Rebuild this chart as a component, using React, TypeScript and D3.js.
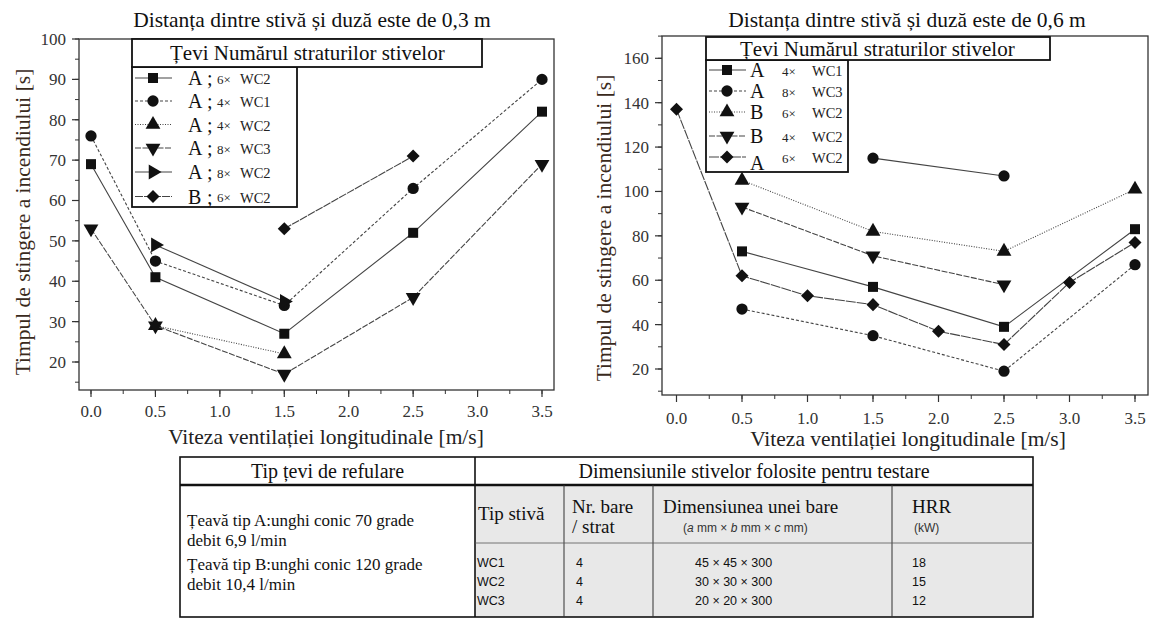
import * as d3 from 'd3'

// ---- data: left panel (0,3 m) ----
const leftTitle = 'Distanța dintre stivă și duză este de 0,3 m'
const leftSqX = [0, 0.5, 1.5, 2.5, 3.5]
const leftSqY = [69, 41, 27, 52, 82]
const leftCircX = [0, 0.5, 1.5, 2.5, 3.5]
const leftCircY = [76, 45, 34, 63, 90]
const leftTriX = [0.5, 1.5]
const leftTriY = [29, 22]
const leftDownX = [0, 0.5, 1.5, 2.5, 3.5]
const leftDownY = [53, 29, 17, 36, 69]
const leftRightX = [0.5, 1.5]
const leftRightY = [49, 35]
const leftDiaX = [1.5, 2.5]
const leftDiaY = [53, 71]
const leftLegendPipe = ['A', 'A', 'A', 'A', 'A', 'B']
const leftLegendCount = ['6×', '4×', '4×', '8×', '8×', '6×']
const leftLegendStack = ['WC2', 'WC1', 'WC2', 'WC3', 'WC2', 'WC2']

// ---- data: right panel (0,6 m) ----
const rightTitle = 'Distanța dintre stivă și duză este de 0,6 m'
const rightSqX = [0.5, 1.5, 2.5, 3.5]
const rightSqY = [73, 57, 39, 83]
const rightCircX = [0.5, 1.5, 2.5, 3.5]
const rightCircY = [47, 35, 19, 67]
const rightCirc2X = [1.5, 2.5]
const rightCirc2Y = [115, 107]
const rightTriX = [0.5, 1.5, 2.5, 3.5]
const rightTriY = [105, 82, 73, 101]
const rightDownX = [0.5, 1.5, 2.5]
const rightDownY = [93, 71, 58]
const rightDiaX = [0, 0.5, 1, 1.5, 2, 2.5, 3, 3.5]
const rightDiaY = [137, 62, 53, 49, 37, 31, 59, 77]
const rightLegendPipe = ['A', 'A', 'B', 'B', 'A']
const rightLegendCount = ['4×', '8×', '6×', '4×', '6×']
const rightLegendStack = ['WC1', 'WC3', 'WC2', 'WC2', 'WC2']

const xTicks = [0, 0.5, 1, 1.5, 2, 2.5, 3, 3.5]
const leftYTicks = [20, 30, 40, 50, 60, 70, 80, 90, 100]
const rightYTicks = [20, 40, 60, 80, 100, 120, 140, 160]

const legendHeader = 'Țevi  Numărul straturilor stivelor'
const xTitle = 'Viteza ventilației longitudinale [m/s]'
const yTitle = 'Timpul de stingere a incendiului [s]'

// ---- table text ----
const tableHead = ['Tip țevi de refulare', 'Dimensiunile stivelor folosite pentru testare']
const pipeLines = [
  'Țeavă tip A:unghi conic 70 grade',
  'debit 6,9 l/min',
  'Țeavă tip B:unghi conic 120 grade',
  'debit 10,4 l/min',
]
const stackTypes = ['WC1', 'WC2', 'WC3']
const barsPerLayer = ['4', '4', '4']
const barDims = ['45 × 45 × 300', '30 × 30 × 300', '20 × 20 × 300']
const hrr = ['18', '15', '12']

const serif = "'Liberation Serif', 'Times New Roman', serif"
const sans = "'Liberation Sans', Arial, sans-serif"

type Series = { xs: number[]; ys: number[]; shape: string; dash: string }

function markerPath(shape: string) {
  if (shape === 'square') return d3.symbol(d3.symbolSquare, 100)()
  if (shape === 'circle') return d3.symbol(d3.symbolCircle, 100)()
  if (shape === 'diamond') return d3.symbol(d3.symbolSquare, 85)()
  return d3.symbol(d3.symbolTriangle, 95)()
}
function markerRot(shape: string) {
  if (shape === 'down') return 180
  if (shape === 'right') return 90
  if (shape === 'diamond') return 45
  return 0
}

function Marker({ x, y, shape }: { x: number; y: number; shape: string }) {
  return (
    <path
      d={markerPath(shape) || ''}
      transform={`translate(${x},${y}) rotate(${markerRot(shape)})`}
      fill="#111"
    />
  )
}

type LegendBox = {
  l: number
  r: number
  ir: number
  t: number
  hb: number
  ib: number
  rows: number[]
  pipeDy: number[]
  pipeX: number
  semi: boolean
  countX: number
  stackX: number
  textX: number
}

type PanelProps = {
  frame: { l: number; r: number; t: number; b: number }
  xRange: [number, number]
  yDom: [number, number]
  yRange: [number, number]
  yTicks: number[]
  yMinorStep: number
  labelGap: number
  xTitleGap: number
  xTitleX: number
  series: Series[]
  title: string
  titleX: number
  yTitleX: number
  yTitleY: number
  legend: LegendBox
  pipes: string[]
  counts: string[]
  stacks: string[]
  legendShapes: string[]
  legendDash: string[]
}

function Panel(p: PanelProps) {
  const { frame, legend } = p
  const x = d3.scaleLinear([0, 3.5], p.xRange)
  const y = d3.scaleLinear(p.yDom, p.yRange)
  const yMin = y.invert(frame.b)
  const yMax = y.invert(frame.t)
  const yMinor = d3.range(Math.ceil(yMin / p.yMinorStep) * p.yMinorStep, yMax + 0.01, p.yMinorStep)
  const xMinor = d3.range(0, 3.51, 0.25)
  return (
    <g>
      <text x={p.titleX} y={27} fontSize={21.5} fontFamily={serif} textAnchor="middle" fill="#111">
        {p.title}
      </text>
      {/* series */}
      {p.series.map((s, i) => {
        const pts = s.xs.map((v, j) => [x(v), y(s.ys[j])] as [number, number])
        const path = d3.line()(pts)
        return (
          <g key={i}>
            <path d={path || ''} fill="none" stroke="#444" strokeWidth={1.1} strokeDasharray={s.dash} />
            {pts.map((pt, j) => (
              <Marker key={j} x={pt[0]} y={pt[1]} shape={s.shape} />
            ))}
          </g>
        )
      })}
      {/* frame */}
      <rect x={frame.l} y={frame.t} width={frame.r - frame.l} height={frame.b - frame.t} fill="none" stroke="#333" strokeWidth={1.3} />
      {/* y ticks */}
      {yMinor.map((v) => (
        <line key={'ym' + v} x1={frame.l - 4} x2={frame.l} y1={y(v)} y2={y(v)} stroke="#333" />
      ))}
      {p.yTicks.map((v) => (
        <g key={'y' + v}>
          <line x1={frame.l - 7} x2={frame.l} y1={y(v)} y2={y(v)} stroke="#333" strokeWidth={1.2} />
          <text x={frame.l - 13} y={y(v)} dy="0.35em" textAnchor="end" fontSize={17} fontFamily={serif} fill="#333">
            {v}
          </text>
        </g>
      ))}
      {/* x ticks */}
      {xMinor.map((v) => (
        <line key={'xm' + v} x1={x(v)} x2={x(v)} y1={frame.b} y2={frame.b + 4} stroke="#333" />
      ))}
      {xTicks.map((v) => (
        <g key={'x' + v}>
          <line x1={x(v)} x2={x(v)} y1={frame.b} y2={frame.b + 7} stroke="#333" strokeWidth={1.2} />
          <text x={x(v)} y={frame.b + p.labelGap} textAnchor="middle" fontSize={17} fontFamily={serif} fill="#333">
            {d3.format('.1f')(v)}
          </text>
        </g>
      ))}
      <text x={p.xTitleX} y={frame.b + p.xTitleGap} textAnchor="middle" fontSize={21.5} fontFamily={serif} fill="#222">
        {xTitle}
      </text>
      <text
        transform={`translate(${p.yTitleX},${p.yTitleY}) rotate(-90)`}
        textAnchor="middle"
        dy="0.35em"
        fontSize={21.5}
        fontFamily={serif}
        fill="#3a2a1c"
      >
        {yTitle}
      </text>
      {/* legend */}
      <rect x={legend.l} y={legend.hb} width={legend.ir - legend.l} height={legend.ib - legend.hb} fill="#fff" stroke="#111" strokeWidth={1.8} />
      <rect x={legend.l} y={legend.t} width={legend.r - legend.l} height={legend.hb - legend.t} fill="#fff" stroke="#111" strokeWidth={1.8} />
      <text x={legend.textX} y={(legend.t + legend.hb) / 2} dy="0.35em" fontSize={21} fontFamily={serif} fill="#111">
        {legendHeader}
      </text>
      {p.pipes.map((pipe, i) => {
        const ry = legend.rows[i]
        return (
          <g key={'lg' + i}>
            <line x1={legend.l + 3} x2={legend.l + 40} y1={ry} y2={ry} stroke="#444" strokeWidth={1.1} strokeDasharray={p.legendDash[i]} />
            <Marker x={legend.l + 21} y={ry} shape={p.legendShapes[i]} />
            <text x={legend.pipeX} y={ry + legend.pipeDy[i]} dy="0.35em" fontSize={20} fontFamily={serif} fill="#111">
              {pipe}
            </text>
            {legend.semi && (
              <text x={legend.pipeX + 19} y={ry} dy="0.35em" fontSize={20} fontFamily={serif} fill="#111">
                ;
              </text>
            )}
            <text x={legend.countX} y={ry + 1} dy="0.35em" fontSize={13} fontFamily={serif} fill="#222">
              {p.counts[i]}
            </text>
            <text x={legend.stackX} y={ry + 1} dy="0.35em" fontSize={14.5} fontFamily={serif} fill="#222">
              {p.stacks[i]}
            </text>
          </g>
        )
      })}
    </g>
  )
}

function Table() {
  const L = 180
  const R = 1033
  const T = 457
  const HB = 485
  const SB = 543
  const B = 617
  const c1 = 475
  const c2 = 564
  const c3 = 653
  const c4 = 892
  return (
    <g fontFamily={serif} fill="#111">
      <rect x={c1} y={HB} width={R - c1} height={B - HB} fill="#e8e8e8" />
      <rect x={L} y={T} width={R - L} height={B - T} fill="none" stroke="#111" strokeWidth={1.6} />
      <line x1={L} x2={R} y1={HB} y2={HB} stroke="#111" strokeWidth={2.4} />
      <line x1={c1} x2={c1} y1={T} y2={B} stroke="#111" strokeWidth={1.6} />
      <line x1={c2} x2={c2} y1={HB} y2={B} stroke="#333" strokeWidth={1} />
      <line x1={c3} x2={c3} y1={HB} y2={B} stroke="#333" strokeWidth={1} />
      <line x1={c4} x2={c4} y1={HB} y2={B} stroke="#333" strokeWidth={1} />
      <line x1={c1} x2={R} y1={SB} y2={SB} stroke="#555" strokeWidth={0.8} />
      <text x={(L + c1) / 2} y={471} dy="0.35em" textAnchor="middle" fontSize={20}>
        {tableHead[0]}
      </text>
      <text x={(c1 + R) / 2} y={471} dy="0.35em" textAnchor="middle" fontSize={20}>
        {tableHead[1]}
      </text>
      {pipeLines.map((t, i) => (
        <text key={t} x={187} y={[520, 540, 564, 584][i]} dy="0.35em" fontSize={17}>
          {t}
        </text>
      ))}
      <text x={c1 + 3} y={513} dy="0.35em" fontSize={19}>
        Tip stivă
      </text>
      <text x={c2 + 8} y={506} dy="0.35em" fontSize={19}>
        Nr. bare
      </text>
      <text x={c2 + 8} y={526} dy="0.35em" fontSize={19}>
        / strat
      </text>
      <text x={c3 + 10} y={506} dy="0.35em" fontSize={19}>
        Dimensiunea unei bare
      </text>
      <text x={c3 + 30} y={528} dy="0.35em" fontSize={12} fontFamily={sans} fill="#333">
        (<tspan fontStyle="italic">a</tspan> mm × <tspan fontStyle="italic">b</tspan> mm × <tspan fontStyle="italic">c</tspan> mm)
      </text>
      <text x={c4 + 20} y={506} dy="0.35em" fontSize={19}>
        HRR
      </text>
      <text x={c4 + 22} y={528} dy="0.35em" fontSize={12} fontFamily={sans} fill="#333">
        (kW)
      </text>
      {stackTypes.map((s, i) => {
        const ry = [563, 582, 601][i]
        return (
          <g key={s} fontFamily={sans} fontSize={12.5} fill="#111">
            <text x={c1 + 2} y={ry} dy="0.35em">
              {s}
            </text>
            <text x={c2 + 12} y={ry} dy="0.35em">
              {barsPerLayer[i]}
            </text>
            <text x={c3 + 42} y={ry} dy="0.35em">
              {barDims[i]}
            </text>
            <text x={c4 + 20} y={ry} dy="0.35em">
              {hrr[i]}
            </text>
          </g>
        )
      })}
    </g>
  )
}

export default function App() {
  const leftSeries: Series[] = [
    { xs: leftSqX, ys: leftSqY, shape: 'square', dash: '' },
    { xs: leftCircX, ys: leftCircY, shape: 'circle', dash: '3,2' },
    { xs: leftTriX, ys: leftTriY, shape: 'triangle', dash: '1,1.5' },
    { xs: leftDownX, ys: leftDownY, shape: 'down', dash: '6,1.5' },
    { xs: leftRightX, ys: leftRightY, shape: 'right', dash: '' },
    { xs: leftDiaX, ys: leftDiaY, shape: 'diamond', dash: '8,1' },
  ]
  const rightSeries: Series[] = [
    { xs: rightSqX, ys: rightSqY, shape: 'square', dash: '' },
    { xs: rightCircX, ys: rightCircY, shape: 'circle', dash: '3,2' },
    { xs: rightCirc2X, ys: rightCirc2Y, shape: 'circle', dash: '' },
    { xs: rightTriX, ys: rightTriY, shape: 'triangle', dash: '1,1.5' },
    { xs: rightDownX, ys: rightDownY, shape: 'down', dash: '6,1.5' },
    { xs: rightDiaX, ys: rightDiaY, shape: 'diamond', dash: '10,1' },
  ]
  return (
    <svg width={1151} height={619} style={{ position: 'absolute', left: 0, top: 0, background: '#fff' }}>
      <rect width={1151} height={619} fill="#fff" />
      <Panel
        frame={{ l: 79, r: 554, t: 39, b: 390 }}
        xRange={[91, 542]}
        yDom={[20, 100]}
        yRange={[362, 39]}
        yTicks={leftYTicks}
        yMinorStep={5}
        labelGap={27}
        xTitleGap={54}
        xTitleX={326}
        series={leftSeries}
        title={leftTitle}
        titleX={312}
        yTitleX={22}
        yTitleY={222}
        legend={{
          l: 132, r: 482, ir: 297, t: 39, hb: 67, ib: 207,
          rows: [78, 101, 124.5, 148, 172, 196.5],
          pipeDy: [0, 0, 0, 0, 0, 0],
          pipeX: 188, semi: true, countX: 217, stackX: 240, textX: 170,
        }}
        pipes={leftLegendPipe}
        counts={leftLegendCount}
        stacks={leftLegendStack}
        legendShapes={['square', 'circle', 'triangle', 'down', 'right', 'diamond']}
        legendDash={['', '3,2', '1,1.5', '6,1.5', '', '8,1']}
      />
      <Panel
        frame={{ l: 662, r: 1148, t: 36, b: 395 }}
        xRange={[676.5, 1135]}
        yDom={[20, 160]}
        yRange={[369, 58.3]}
        yTicks={rightYTicks}
        yMinorStep={10}
        labelGap={29}
        xTitleGap={51}
        xTitleX={908}
        series={rightSeries}
        title={rightTitle}
        titleX={907}
        yTitleX={603}
        yTitleY={228}
        legend={{
          l: 706, r: 1050, ir: 848, t: 37, hb: 60, ib: 172,
          rows: [70, 91, 112, 136, 157],
          pipeDy: [0, 0, 0, 0, 6],
          pipeX: 750, semi: false, countX: 782, stackX: 812, textX: 740,
        }}
        pipes={rightLegendPipe}
        counts={rightLegendCount}
        stacks={rightLegendStack}
        legendShapes={['square', 'circle', 'triangle', 'down', 'diamond']}
        legendDash={['', '3,2', '1,1.5', '6,1.5', '10,1']}
      />
      <Table />
    </svg>
  )
}
